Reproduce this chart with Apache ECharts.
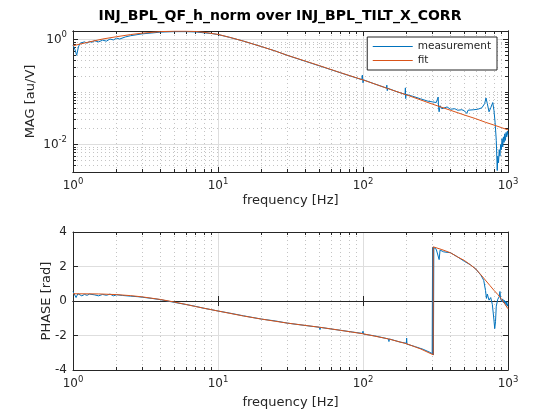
<!DOCTYPE html>
<html><head><meta charset="utf-8">
<script src="https://cdn.jsdelivr.net/npm/echarts@6/dist/echarts.min.js"></script>
<style>html,body{margin:0;padding:0;background:#fff}#c{width:560px;height:420px}</style>
</head><body><div id="c"></div>
<script>
// ---- data ----
var measFreqMag = [1.0,1.03,1.06,1.09,1.12,1.15,1.2,1.25,1.3,1.35,1.4,1.5,1.6,1.7,1.8,1.9,2.0,2.1,2.3,2.5,3,3.5,4,5,6,7,8,9,10,12,15,20,25,30,40,50,70,98,99,100,101,120,145,146,147,148,170,195,196,197,198,220,250,280,300,320,330,332,335,340,350,380,400,430,450,480,500,520,530,580,620,660,690,705,720,740,760,785,800,815,830,843,850,860,870,880,890,900,910,920,930,940,950,960,970,980,990,1000];
var measMag = [0.78,0.65,0.5,0.72,0.85,0.8,0.9,0.85,0.92,0.88,0.95,0.9,0.97,0.93,1.02,0.98,1.06,1.02,1.12,1.18,1.28,1.33,1.38,1.41,1.41,1.39,1.34,1.3,1.24,1.1,0.93,0.73,0.6,0.5,0.385,0.315,0.232,0.172,0.21,0.15,0.17,0.143,0.119,0.135,0.106,0.118,0.102,0.09,0.12,0.075,0.09,0.083,0.074,0.067,0.065,0.063,0.08,0.05,0.042,0.055,0.048,0.052,0.047,0.048,0.045,0.046,0.044,0.039,0.045,0.046,0.047,0.05,0.06,0.077,0.06,0.042,0.05,0.063,0.045,0.026,0.012,0.0032,0.006,0.0045,0.008,0.006,0.01,0.008,0.013,0.009,0.014,0.011,0.016,0.012,0.017,0.014,0.018,0.015,0.019];
var fitFreqMag = [1,1.3,1.6,2,2.5,3,4,5,6,7,8,10,12,15,20,25,30,40,50,70,100,150,200,300,400,500,600,700,800,900,1000];
var fitMag = [0.76,0.9,1.02,1.13,1.24,1.32,1.41,1.44,1.44,1.42,1.37,1.25,1.1,0.93,0.73,0.6,0.5,0.388,0.318,0.233,0.17,0.115,0.088,0.059,0.045,0.0365,0.031,0.0265,0.0235,0.021,0.019];

var measFreqPh = [1.0,1.02,1.05,1.08,1.1,1.15,1.2,1.25,1.3,1.4,1.5,1.6,1.7,1.8,1.9,2.0,2.2,2.5,2.8,3,3.5,4,5,6,7,8,10,12,15,20,25,30,40,50,50.5,51,60,70,85,99,100,101,120,150,151,152,180,199,200,201,230,260,290,300,302,303,305,306,308,310,320,330,335,340,360,380,400,420,450,500,550,600,650,680,700,710,720,740,760,780,800,810,820,830,850,870,880,890,900,910,920,930,940,950,960,970,980,990,1000];
var measPhase = [0.55,0.45,0.2,0.42,0.35,0.3,0.38,0.33,0.4,0.36,0.3,0.38,0.33,0.4,0.3,0.36,0.32,0.28,0.25,0.22,0.15,0.08,-0.08,-0.2,-0.31,-0.42,-0.58,-0.7,-0.86,-1.05,-1.16,-1.28,-1.42,-1.52,-1.66,-1.53,-1.62,-1.7,-1.8,-1.88,-1.75,-1.92,-2.02,-2.2,-2.35,-2.2,-2.38,-2.45,-2.15,-2.5,-2.65,-2.8,-2.98,-3.05,3.1,-3.1,3.12,-3.13,3.1,3.05,3.0,3.05,2.4,2.95,2.85,2.82,2.8,2.7,2.55,2.3,2.1,1.85,1.5,1.2,0.6,0.15,0.4,0.05,0.2,-0.2,-1.1,-1.6,-1.2,-0.3,0.1,0.25,0.55,0.1,0.18,-0.05,0.12,-0.1,0.05,-0.15,0.0,-0.25,-0.05,-0.3,-0.15,-0.4];
var fitFreqPh = [1,1.5,2,2.5,3,4,5,6,7,8,10,15,20,30,50,70,100,150,200,250,305,305,350,400,450,500,550,600,650,700,750,800,850,900,950,1000];
var fitPhase = [0.42,0.41,0.37,0.31,0.24,0.09,-0.06,-0.2,-0.32,-0.42,-0.58,-0.87,-1.05,-1.28,-1.52,-1.7,-1.9,-2.2,-2.48,-2.78,-3.12,3.14,2.98,2.8,2.55,2.35,2.1,1.85,1.52,1.2,0.9,0.62,0.38,0.12,-0.17,-0.45];

var xMajorTicks = [1,10,100,1000];
var xMinorTicks = [2,3,4,5,6,7,8,9,20,30,40,50,60,70,80,90,200,300,400,500,600,700,800,900];
var yMagMajorTicks = [0.01,1];
var yMagMinorTicks = [0.003,0.004,0.005,0.006,0.007,0.008,0.009,0.02,0.03,0.04,0.05,0.06,0.07,0.08,0.09,0.1,0.2,0.3,0.4,0.5,0.6,0.7,0.8,0.9];
var xMin = 1, xMax = 1000, yMagMin = 0.003, yMagMax = 1.45;
var yPhMin = -4, yPhMax = 4, yPhStep = 2;

function zip(a,b){var r=[];for(var i=0;i<a.length;i++)r.push([a[i],b[i]]);return r;}

var TXT = '#262626', FONT = 'DejaVu Sans';
var BLUE = '#0072BD', ORANGE = '#D95319';
var rich = {b:{fontSize:12,color:TXT,fontFamily:FONT},
            s:{fontSize:8.5,color:TXT,fontFamily:FONT,padding:[0,0,9,0]}};
function powLabel(v){var e=Math.round(Math.log(v)/Math.LN10);return '{b|10}{s|'+e+'}';}
var lineAx = {show:true,lineStyle:{color:TXT,width:1}};
var majSplit = {show:true,lineStyle:{color:'#dedede',width:1}};
var minSplit = {show:true,lineStyle:{color:'#c4c4c4',width:1,type:[1,3]}};
var nameStyle = {fontSize:13,color:TXT,fontFamily:FONT};

function xAxes(gi, gap){
  var base = {gridIndex:gi,type:'log',logBase:10,min:xMin,max:xMax,axisLine:lineAx};
  return [
    Object.assign({},base,{position:'bottom',name:'frequency [Hz]',nameLocation:'middle',nameGap:gap,
      nameMoveOverlap:false,nameTextStyle:nameStyle,
      axisTick:{show:true,inside:true,length:5,customValues:xMajorTicks,lineStyle:{color:TXT}},
      axisLabel:{show:true,customValues:xMajorTicks,formatter:powLabel,rich:rich,margin:5},
      splitLine:majSplit}),
    Object.assign({},base,{position:'top',axisTick:{show:true,inside:true,length:5,customValues:xMajorTicks,lineStyle:{color:TXT}},
      axisLabel:{show:false},splitLine:{show:false}}),
    Object.assign({},base,{position:'bottom',axisTick:{show:true,inside:true,length:3,customValues:xMinorTicks,lineStyle:{color:TXT}},
      axisLabel:{show:false},splitLine:minSplit}),
    Object.assign({},base,{position:'top',axisTick:{show:true,inside:true,length:3,customValues:xMinorTicks,lineStyle:{color:TXT}},
      axisLabel:{show:false},splitLine:{show:false}})
  ];
}

var option = {
  animation:false,
  backgroundColor:'#fff',
  title:{text:'INJ_BPL_QF_h_norm over INJ_BPL_TILT_X_CORR',left:'center',top:4,
    textStyle:{fontSize:14,fontWeight:'bold',color:'#000',fontFamily:FONT}},
  legend:{right:63,top:37,orient:'vertical',itemWidth:40,itemHeight:12,itemGap:3,
    padding:[4,6,4,5],borderColor:'#262626',borderWidth:1,backgroundColor:'#fff',borderRadius:0,
    itemStyle:{opacity:0,borderWidth:0},lineStyle:{width:1},
    textStyle:{fontSize:10.5,color:TXT,fontFamily:FONT},data:['measurement','fit']},
  grid:[{left:73,right:52,top:31,height:141},{left:73,right:52,top:232,height:138}],
  xAxis: xAxes(0,22).concat(xAxes(1,26)),
  yAxis:[
    {gridIndex:0,type:'log',logBase:10,min:yMagMin,max:yMagMax,position:'left',axisLine:lineAx,
      name:'MAG [au/V]',nameLocation:'middle',nameGap:36,nameMoveOverlap:false,nameTextStyle:nameStyle,
      axisTick:{show:true,inside:true,length:5,customValues:yMagMajorTicks,lineStyle:{color:TXT}},
      axisLabel:{show:true,customValues:yMagMajorTicks,formatter:powLabel,rich:rich,margin:6},
      splitLine:majSplit},
    {gridIndex:0,type:'log',logBase:10,min:yMagMin,max:yMagMax,position:'right',axisLine:lineAx,
      axisTick:{show:true,inside:true,length:5,customValues:yMagMajorTicks,lineStyle:{color:TXT}},
      axisLabel:{show:false},splitLine:{show:false}},
    {gridIndex:0,type:'log',logBase:10,min:yMagMin,max:yMagMax,position:'left',axisLine:lineAx,
      axisTick:{show:true,inside:true,length:3,customValues:yMagMinorTicks,lineStyle:{color:TXT}},
      axisLabel:{show:false},splitLine:minSplit},
    {gridIndex:0,type:'log',logBase:10,min:yMagMin,max:yMagMax,position:'right',axisLine:lineAx,
      axisTick:{show:true,inside:true,length:3,customValues:yMagMinorTicks,lineStyle:{color:TXT}},
      axisLabel:{show:false},splitLine:{show:false}},
    {gridIndex:1,type:'value',min:yPhMin,max:yPhMax,interval:yPhStep,position:'left',axisLine:lineAx,
      name:'PHASE [rad]',nameLocation:'middle',nameGap:20,nameMoveOverlap:false,nameTextStyle:nameStyle,
      axisTick:{show:true,inside:true,length:5,lineStyle:{color:TXT}},
      axisLabel:{show:true,fontSize:12,color:TXT,fontFamily:FONT,margin:6},
      splitLine:majSplit},
    {gridIndex:1,type:'value',min:yPhMin,max:yPhMax,interval:yPhStep,position:'right',axisLine:lineAx,
      axisTick:{show:true,inside:true,length:5,lineStyle:{color:TXT}},
      axisLabel:{show:false},splitLine:{show:false}}
  ],
  series:[
    {name:'measurement',type:'line',xAxisIndex:0,yAxisIndex:0,data:zip(measFreqMag,measMag),symbol:'none',
      lineStyle:{color:BLUE,width:1},itemStyle:{color:BLUE}},
    {name:'fit',type:'line',xAxisIndex:0,yAxisIndex:0,data:zip(fitFreqMag,fitMag),symbol:'none',smooth:false,
      lineStyle:{color:ORANGE,width:1},itemStyle:{color:ORANGE}},
    {name:'measurement',type:'line',xAxisIndex:4,yAxisIndex:4,data:zip(measFreqPh,measPhase),symbol:'none',
      lineStyle:{color:BLUE,width:1},itemStyle:{color:BLUE}},
    {name:'fit',type:'line',xAxisIndex:4,yAxisIndex:4,data:zip(fitFreqPh,fitPhase),symbol:'none',
      lineStyle:{color:ORANGE,width:1},itemStyle:{color:ORANGE}}
  ]
};
var chart = echarts.init(document.getElementById('c'),null,{renderer:'canvas'});
chart.setOption(option);
</script></body></html>
